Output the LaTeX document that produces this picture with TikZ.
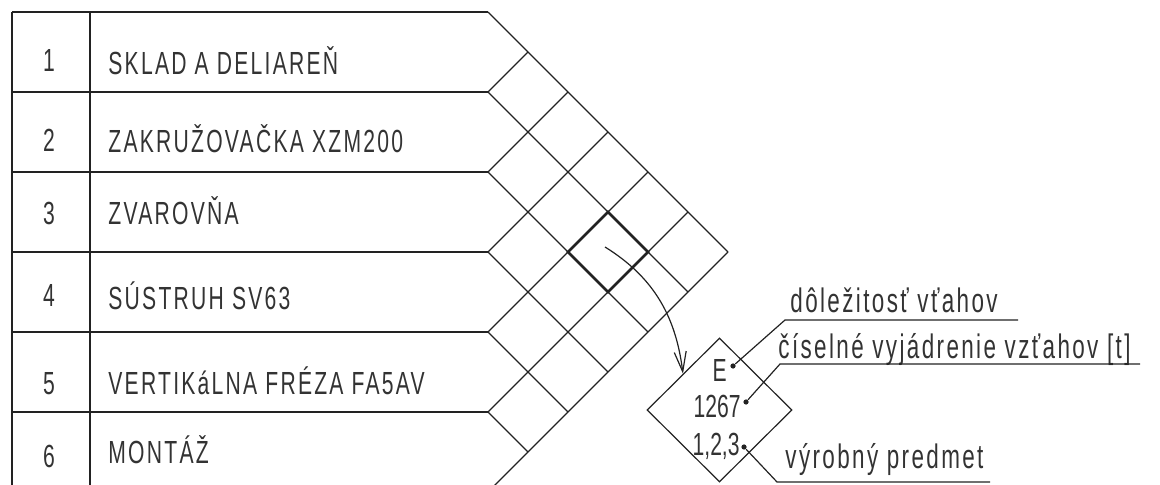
\documentclass[tikz,border=0pt]{standalone}
\usepackage{fontspec}
\setmainfont{Liberation Sans}[FakeStretch=0.66,LetterSpace=7]
\usetikzlibrary{arrows.meta,shapes.geometric}
\definecolor{inkline}{HTML}{222222}
\definecolor{inktext}{HTML}{333333}
\tikzset{
  frame/.style={draw=inkline,line width=0.6pt},
  hl/.style={draw=inkline,line width=1.3pt},
  num/.style={anchor=base,inner sep=0pt,font=\fontsize{16}{18}\selectfont,text=inktext},
  rowlab/.style={anchor=base west,inner sep=0pt,font=\fontsize{16}{18}\selectfont,text=inktext},
  leglab/.style={anchor=base west,inner sep=0pt,font=\fontsize{17}{20}\selectfont,text=inktext},
  legval/.style={anchor=base east,inner sep=0pt,
                 font=\fontsize{16}{18}\selectfont\addfontfeatures{LetterSpace=0},text=inktext},
  legbox/.style={draw=inkline,line width=0.6pt,diamond,minimum width=72.5pt,
                 minimum height=72pt,inner sep=0pt},
  pin/.style={circle,fill=inkline,inner sep=0pt,minimum size=2.6pt},
  ar/.style={-{Straight Barb[length=10pt,width=6pt]},line width=0.6pt,inkline},
  lead/.style={line width=0.6pt,inkline},
}

\begin{document}
\begin{tikzpicture}[x=0.5pt,y=-0.5pt]
    \useasboundingbox (0,0) rectangle (1160,485);
    % table
    \draw[frame] (12,12) -- (488,12);
    \foreach \y in {92,172,...,412}
      \draw[frame] (12,\y) -- (488,\y);
    \draw[frame] (12,12) -- (12,492);
    \draw[frame] (90,12) -- (90,492);
    \foreach \n/\nb/\tb/\txt in {1/72/75/SKLAD A DELIAREŇ,
                                 2/152/153/ZAKRUŽOVAČKA XZM200,
                                 3/225/225/ZVAROVŇA,
                                 4/307/310/SÚSTRUH SV63,
                                 5/395/395/VERTIKáLNA FRÉZA FA5AV,
                                 6/467/463/MONTÁŽ}{
      \node[num] (n\n) at (49,\nb) {\n};
      \node[rowlab] (r\n) at (108,\tb) {\txt};
    }
    % relation grid
    \foreach \y in {12,92,...,492}{
      \draw[frame] (488,\y) -- ++({(492-\y)/2},{(492-\y)/2});
      \draw[frame] (488,\y) -- ++({(\y-12)/2},{-(\y-12)/2});
    }
    \coordinate (c25) at (608,252);
    \draw[hl] (c25) ++(0,-40) -- ++(40,40) -- ++(-40,40) -- ++(-40,-40) -- cycle;
    % legend
    \node[legbox] (leg) at (719.5,410) {};
    \node[legval] (vE) at (727,382) {E};
    \node[legval] (vT) at (741,418) {1267};
    \node[legval] (vP) at (740,455) {1,2,3};
    \node[pin] (dE) at (733,366) {};
    \node[pin] (dT) at (746,402) {};
    \node[pin] (dP) at (744,447) {};
    \coordinate (astart) at (605,247);
    \draw[ar] (astart) .. controls (655,278) and (676,318) .. (leg.north west);
    \coordinate (k1) at (785,320);
    \coordinate (k2) at (780,364);
    \coordinate (k3) at (777,482);
    \node[leglab] (imp) at (790,313) {dôležitosť vťahov};
    \node[leglab] (val) at (778,359) {číselné vyjádrenie vzťahov [t]};
    \node[leglab] (prod) at (785,468) {výrobný predmet};
    \draw[lead] (dE) -- (k1) -- (1018,320);
    \draw[lead] (dT) -- (k2) -- (1140,364);
    \draw[lead] (dP) -- (k3) -- (990,482);
  \end{tikzpicture}
\end{document}
